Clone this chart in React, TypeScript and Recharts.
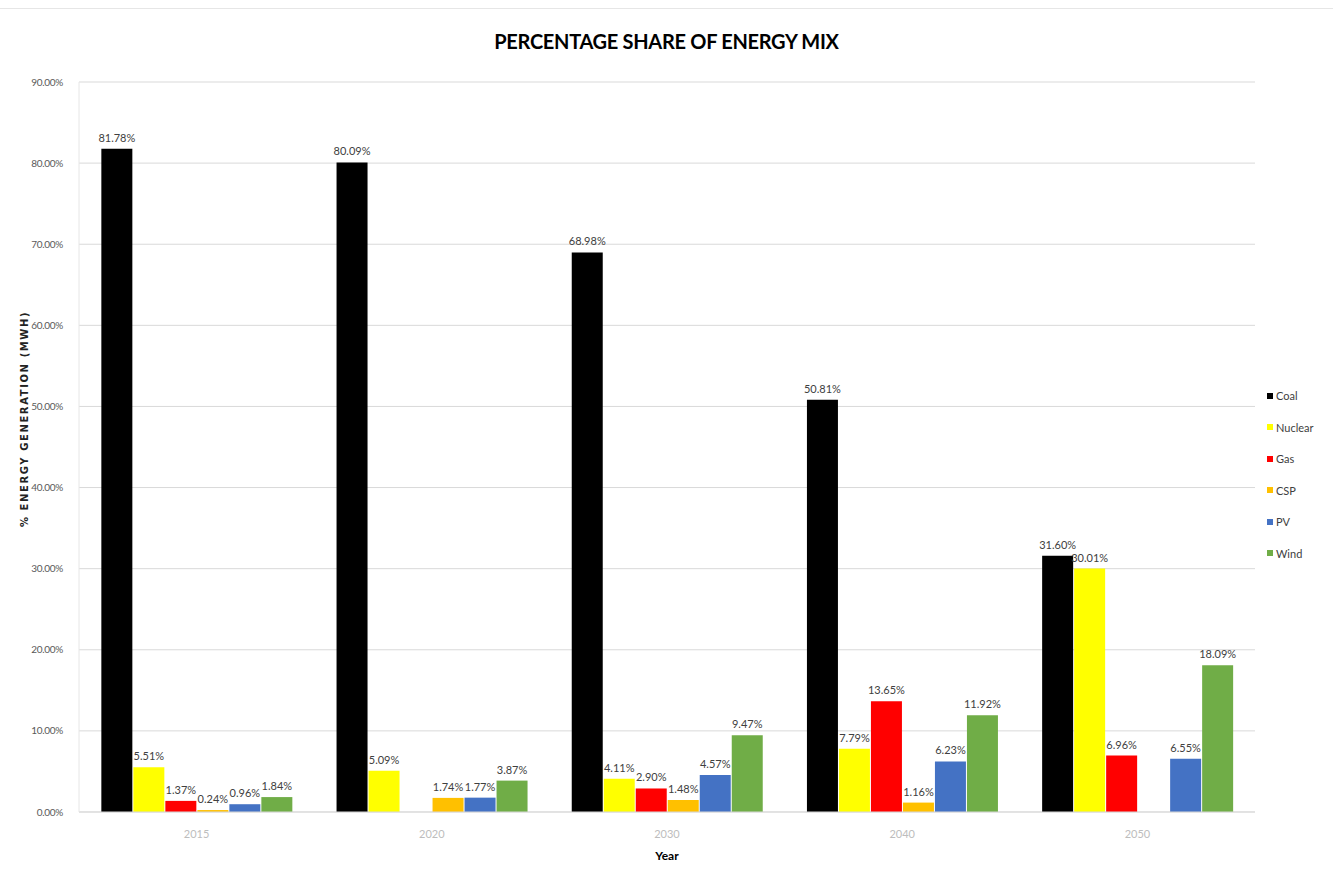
import {
  BarChart,
  Bar,
  XAxis,
  YAxis,
  CartesianGrid,
  Legend,
  LabelList,
} from "recharts";

const years = ["2015", "2020", "2030", "2040", "2050"];
const coal = [81.78, 80.09, 68.98, 50.81, 31.6];
const nuclear = [5.51, 5.09, 4.11, 7.79, 30.01];
const gas = [1.37, 0.0, 2.9, 13.65, 6.96];
const csp = [0.24, 1.74, 1.48, 1.16, 0.0];
const pv = [0.96, 1.77, 4.57, 6.23, 6.55];
const wind = [1.84, 3.87, 9.47, 11.92, 18.09];
const yTicks = [0, 10, 20, 30, 40, 50, 60, 70, 80, 90];

const series = [
  { key: "Coal", values: coal, color: "#000000" },
  { key: "Nuclear", values: nuclear, color: "#ffff00" },
  { key: "Gas", values: gas, color: "#ff0000" },
  { key: "CSP", values: csp, color: "#ffc000" },
  { key: "PV", values: pv, color: "#4472c4" },
  { key: "Wind", values: wind, color: "#70ad47" },
];

const data = years.map((year, i) => {
  const row: Record<string, string | number> = { year };
  series.forEach((s) => (row[s.key] = s.values[i]));
  return row;
});

const font = "Lato, 'Open Sans', sans-serif";
const pct = (v: number) => `${Number(v).toFixed(2)}%`;

function LegendBox() {
  return (
    <div style={{ fontFamily: font, fontSize: 11, color: "#404040", paddingLeft: 12, paddingTop: 68 }}>
      {series.map((s) => (
        <div key={s.key} style={{ display: "flex", alignItems: "center", height: 31.6 }}>
          <span style={{ width: 6, height: 6, background: s.color, marginRight: 3, display: "inline-block" }} />
          {s.key}
        </div>
      ))}
    </div>
  );
}

export default function App() {
  return (
    <div
      style={{
        position: "absolute",
        left: 0,
        top: 0,
        width: 1333,
        height: 881,
        background: "#fff",
        fontFamily: font,
      }}
    >
      <div style={{ position: "absolute", left: 0, right: 0, top: 8, borderTop: "1px solid #e6e6e6" }} />
      <div
        style={{
          position: "absolute",
          top: 29,
          left: 0,
          width: 1333,
          textAlign: "center",
          fontWeight: "bold",
          fontSize: 20,
          color: "#000",
          letterSpacing: -0.3,
        }}
      >
        PERCENTAGE SHARE OF ENERGY MIX
      </div>
      <BarChart
        width={1333}
        height={881}
        data={data}
        margin={{ top: 82, right: 10, bottom: 9, left: 19 }}
        barCategoryGap="9.5%"
        barGap={1}
      >
        <CartesianGrid vertical={false} stroke="#d9d9d9" />
        <XAxis
          dataKey="year"
          height={60}
          tick={{ fill: "#bdbdbd", fontSize: 11, fontFamily: font }}
          tickLine={false}
          axisLine={{ stroke: "#d9d9d9" }}
          tickMargin={12}
          label={{
            value: "Year",
            position: "insideBottom",
            offset: 12,
            style: { fontWeight: "bold", fontSize: 12, fill: "#000", fontFamily: font },
          }}
        />
        <YAxis
          width={60}
          domain={[0, 90]}
          ticks={yTicks}
          tickFormatter={pct}
          tick={{ fill: "#595959", fontSize: 10, fontFamily: font, letterSpacing: -0.3 }}
          tickLine={false}
          axisLine={{ stroke: "#e6e6e6" }}
          tickMargin={10}
          label={{
            value: "% ENERGY GENERATION (MWH)",
            angle: -90,
            position: "insideLeft",
            offset: 5,
            dy: -28,
            style: {
              textAnchor: "middle",
              fontWeight: "bold",
              fontSize: 10,
              fill: "#222",
              letterSpacing: 1.6,
              fontFamily: "'DejaVu Sans', sans-serif",
            },
          }}
        />
        <Legend
          layout="vertical"
          align="right"
          verticalAlign="middle"
          wrapperStyle={{ width: 68 }}
          content={() => <LegendBox />}
        />
        {series.map((s) => (
          <Bar key={s.key} dataKey={s.key} fill={s.color} isAnimationActive={false}>
            <LabelList
              dataKey={s.key}
              position="top"
              formatter={(v: number) => pct(v)}
              style={{ fill: "#404040", fontSize: 11, fontFamily: font }}
              offset={7}
            />
          </Bar>
        ))}
      </BarChart>
    </div>
  );
}
